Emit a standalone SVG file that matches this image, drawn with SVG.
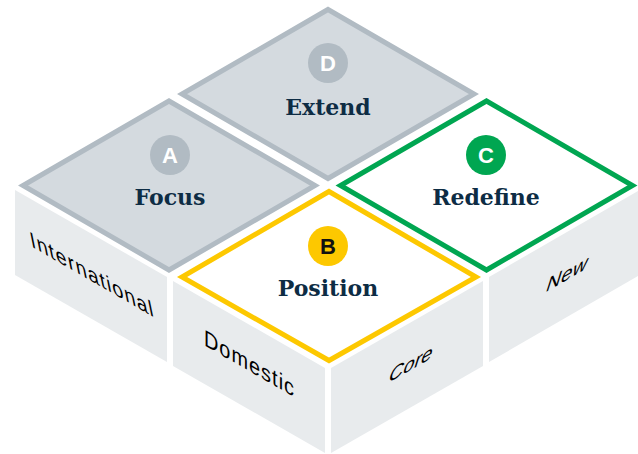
<svg xmlns="http://www.w3.org/2000/svg" width="638" height="454" viewBox="0 0 638 454">
  <style>
    .face { fill: #e8ebed; }
    .gray { fill: #d4dadf; stroke: #b1bbc3; stroke-width: 5; stroke-linejoin: miter; }
    .yellow { fill: #ffffff; stroke: #fdc800; stroke-width: 5; stroke-linejoin: miter; }
    .green { fill: #ffffff; stroke: #00a651; stroke-width: 5; stroke-linejoin: miter; }
    .title { font-family: "DejaVu Serif", "Liberation Serif", serif; font-weight: bold; font-size: 22px; fill: #0d2c44; text-anchor: middle; }
    .badge { font-family: "Liberation Sans", Arial, sans-serif; font-weight: bold; font-size: 22px; text-anchor: middle; }
    .side { font-family: "Liberation Sans", Arial, sans-serif; font-size: 23px; fill: #000000; text-anchor: middle; }
  </style>
  <rect width="638" height="454" fill="#ffffff"/>

  <g id="face-international">
    <polygon class="face" points="15,190 167,277 167,362 15,275"/>
    <text class="side" transform="matrix(0.866,0.5,0.2,0.98,93,282)" textLength="142" lengthAdjust="spacing">International</text>
  </g>
  <g id="face-domestic">
    <polygon class="face" points="173,281 325,368 325,453 173,366"/>
    <text class="side" transform="matrix(0.866,0.5,0,1,249,371)" textLength="104" lengthAdjust="spacing">Domestic</text>
  </g>
  <g id="face-core">
    <polygon class="face" points="331,368 483,281 483,366 331,453"/>
    <text class="side" transform="matrix(0.866,-0.5,-0.3,0.95,409,371)" textLength="50" lengthAdjust="spacing">Core</text>
  </g>
  <g id="face-new">
    <polygon class="face" points="489,277 638,191 638,276 489,362"/>
    <text class="side" transform="matrix(0.866,-0.5,-0.3,0.95,565,281)" textLength="47" lengthAdjust="spacing">New</text>
  </g>

  <g id="quadrant-d">
    <polygon class="gray" points="328,9.5 474,94 328,178.5 182,94"/>
    <circle cx="328" cy="63" r="20" fill="#b1bbc3"/>
    <text class="badge" x="328" y="71" fill="#ffffff">D</text>
    <text class="title" x="328" y="115">Extend</text>
  </g>
  <g id="quadrant-a">
    <polygon class="gray" points="169,101 315,185.5 169,270 23,185.5"/>
    <circle cx="170" cy="155" r="20" fill="#b1bbc3"/>
    <text class="badge" x="170" y="163" fill="#ffffff">A</text>
    <text class="title" x="170" y="205">Focus</text>
  </g>
  <g id="quadrant-c">
    <polygon class="green" points="486.5,101 632.5,185.5 486.5,270 340.5,185.5"/>
    <circle cx="486" cy="155" r="20" fill="#00a651"/>
    <text class="badge" x="486" y="163" fill="#ffffff">C</text>
    <text class="title" x="486" y="205">Redefine</text>
  </g>
  <g id="quadrant-b">
    <polygon class="yellow" points="329,191.5 476,277 329,360.5 182,277"/>
    <circle cx="328" cy="246" r="20" fill="#fdc800"/>
    <text class="badge" x="328" y="254" fill="#111111">B</text>
    <text class="title" x="328" y="296">Position</text>
  </g>

  <g id="connectors"/>
</svg>
